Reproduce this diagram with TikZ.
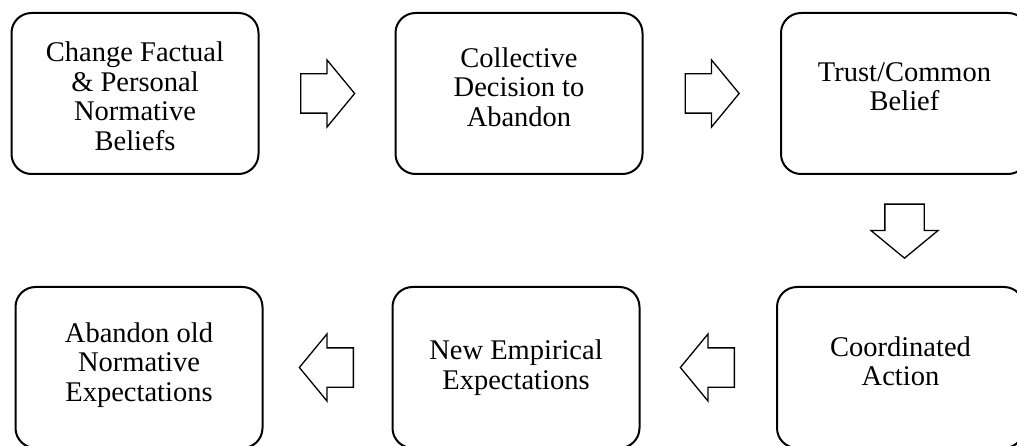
\documentclass[tikz,border=0pt]{standalone}
\usepackage{fontspec}
\setmainfont{Liberation Serif}
\usepackage{tikz}
\usetikzlibrary{shapes.arrows}

\begin{document}
\begin{tikzpicture}[x=1pt, y=-1pt,
    stepbox/.style={draw, line width=2pt, rounded corners=20pt,
        minimum width=247pt, minimum height=161pt, inner sep=0pt},
    steptext/.style={align=center, inner sep=0pt,
        font=\fontsize{28.5}{29.5}\selectfont},
    blockarrow/.style={draw, line width=1.3pt, single arrow, anchor=tail,
        inner xsep=0pt, inner ysep=19pt, minimum height=54pt,
        single arrow head extend=14pt, single arrow tip angle=101}]
    \useasboundingbox (0,0) rectangle (1017,446);
    \clip (0,0) rectangle (1017,446);

    % Top row
    \node[stepbox] (b1) at (135,93.5) {};
    \node[stepbox] (b2) at (519,93.5) {};
    \node[stepbox] (b3) at (904.5,93.5) {};
    \node[steptext] (t1) at ([yshift=-3pt]b1.center) {Change Factual\\\& Personal\\Normative\\Beliefs};
    \node[steptext] (t2) at ([yshift=6.5pt]b2.center) {Collective\\Decision to\\Abandon};
    \node[steptext] (t3) at ([yshift=7pt]b3.center) {Trust/Common\\Belief};

    % Bottom row
    \node[stepbox] (b4) at (139,367.5) {};
    \node[stepbox] (b5) at (516,367.5) {};
    \node[stepbox] (b6) at (900.5,367.5) {};
    \node[steptext] (t4) at ([yshift=2.5pt]b4.center) {Abandon old\\Normative\\Expectations};
    \node[steptext] (t5) at (b5.center) {New Empirical\\Expectations};
    \node[steptext] (t6) at ([yshift=6pt]b6.center) {Coordinated\\Action};

    % Block arrows
    \node[blockarrow] (a1) at ([xshift=40.5pt]b1.east) {};
    \node[blockarrow] (a2) at ([xshift=41pt]b2.east) {};
    \node[blockarrow, rotate=-90] (a3) at ([yshift=-28.5pt]b3.south) {};
    \node[blockarrow, rotate=180] (a4) at ([xshift=-41pt]b6.west) {};
    \node[blockarrow, rotate=180] (a5) at ([xshift=-37.5pt]b5.west) {};
\end{tikzpicture}
\end{document}
